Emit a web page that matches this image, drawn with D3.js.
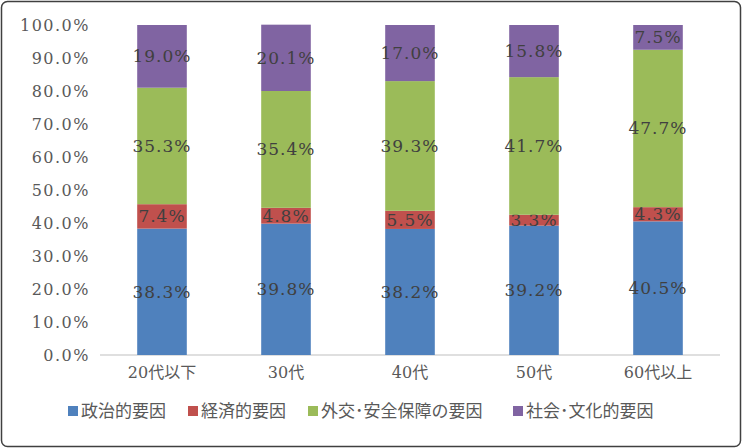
<!DOCTYPE html>
<html><head><meta charset="utf-8">
<script src="https://cdn.jsdelivr.net/npm/d3@7"></script>
<style>body{margin:0;background:#fff}</style></head>
<body><svg id="c" width="742" height="448"></svg>
<script>
const categories=["20代以下","30代","40代","50代","60代以上"];
const seriesNames=["政治的要因","経済的要因","外交･安全保障の要因","社会･文化的要因"];
const colors=["#4F81BD","#C0504D","#9BBB59","#8064A2"];
const political=[38.3,39.8,38.2,39.2,40.5];
const economic=[7.4,4.8,5.5,3.3,4.3];
const diplomatic=[35.3,35.4,39.3,41.7,47.7];
const social=[19.0,20.1,17.0,15.8,7.5];
const yTicks=[0,10,20,30,40,50,60,70,80,90,100];
const series=[political,economic,diplomatic,social];
const font="'DejaVu Serif','Noto Sans CJK JP',serif";
const svg=d3.select("#c");
svg.append("rect").attr("x",1.5).attr("y",1.5).attr("width",739).attr("height",445).attr("rx",6).attr("fill","#fff").attr("stroke","#404040").attr("stroke-width",1.5);
const x=d3.scaleBand().domain(categories).range([100,720]).paddingInner(0.6).paddingOuter(0.3);
const y=d3.scaleLinear().domain([0,100]).range([355,25]);
const ya=svg.append("g").attr("transform","translate(100,0)").call(d3.axisLeft(y).tickValues(yTicks).tickFormat(d=>d.toFixed(1)+"%").tickSize(0).tickPadding(10));
ya.select(".domain").remove();
ya.selectAll("text").attr("font-family",font).attr("font-size",16).attr("letter-spacing",1.5).attr("fill","#595959");
svg.append("line").attr("x1",100).attr("x2",720).attr("y1",y(0)).attr("y2",y(0)).attr("stroke","#bfbfbf");
const xa=svg.append("g").attr("transform","translate(0,355)").call(d3.axisBottom(x).tickSize(0).tickPadding(12));
xa.select(".domain").remove();
xa.selectAll("text").attr("font-family",font).attr("font-size",16).attr("fill","#595959");
categories.forEach((c,i)=>{
  let base=0;
  series.forEach((s,k)=>{
    const v=s[i];
    svg.append("rect").attr("x",x(c)).attr("width",x.bandwidth()).attr("y",y(base+v)).attr("height",y(base)-y(base+v)).attr("fill",colors[k]);
    svg.append("text").attr("x",x(c)+x.bandwidth()/2).attr("y",y(base+v/2)+6).attr("text-anchor","middle")
      .attr("font-family",font).attr("font-size",17).attr("letter-spacing",1).attr("fill","#404040").text(v.toFixed(1)+"%");
    base+=v;
  });
});
const lg=svg.append("g");
let lx=68;
seriesNames.forEach((n,k)=>{
  lg.append("rect").attr("x",lx).attr("y",406).attr("width",10).attr("height",10).attr("fill",colors[k]);
  lg.append("text").attr("x",lx+13).attr("y",417).attr("font-family",font).attr("font-size",17).attr("fill","#595959").text(n);
  lx+=13+n.length*17+22;
});
</script></body></html>
